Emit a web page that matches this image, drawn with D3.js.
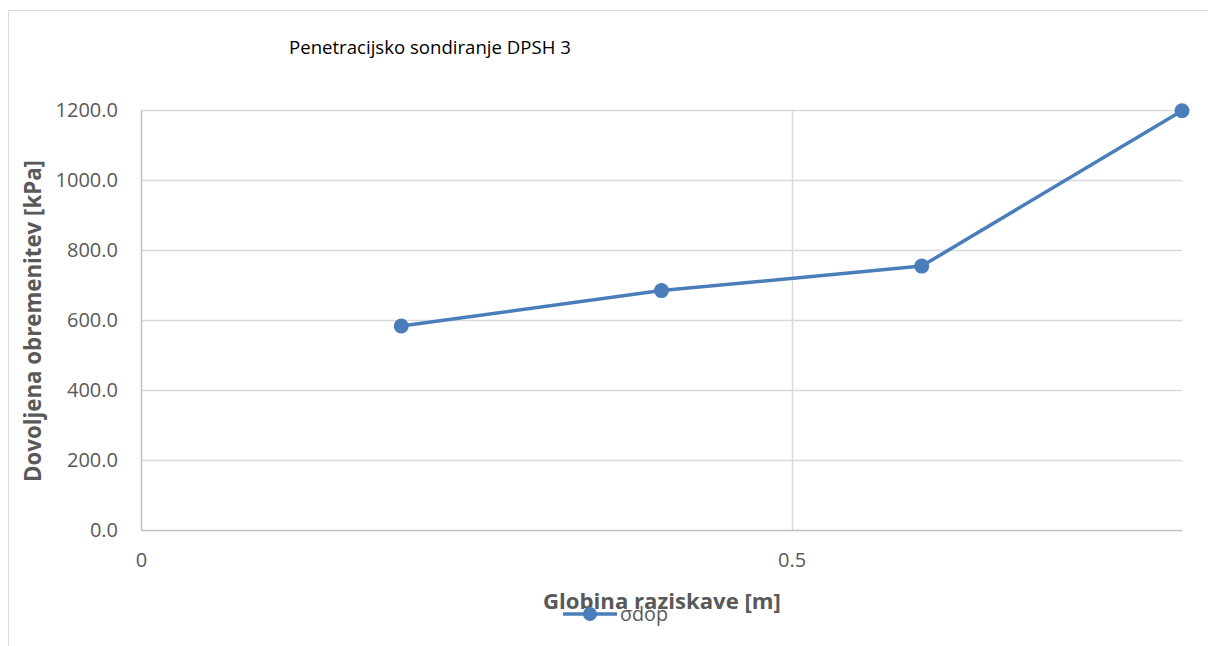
<!DOCTYPE html>
<html>
<head>
<meta charset="utf-8">
<script src="https://cdn.jsdelivr.net/npm/d3@7"></script>
<style>
  html, body { margin: 0; padding: 0; background: #fff; }
  svg { display: block; font-family: "Open Sans", Lato, sans-serif; }
</style>
</head>
<body>
<svg id="chart" width="1208" height="646"></svg>
<script>
// Depth of investigation [m] and allowable load [kPa]
const depths = [0.2, 0.4, 0.6, 0.8];
const loads = [583, 684, 754, 1198];
const yTicks = [0, 200, 400, 600, 800, 1000, 1200];
const xTicks = [0, 0.5];
const seriesName = "σdop";

const svg = d3.select("#chart");
const margin = { left: 141, right: 1182, top: 110, bottom: 530 };
const font = "'Open Sans', Lato, sans-serif";

const x = d3.scaleLinear().domain([0, 0.8]).range([margin.left, margin.right]);
const y = d3.scaleLinear().domain([0, 1200]).range([margin.bottom, margin.top]);

// shrink or grow a text's font size so it spans the given width
function fitWidth(sel, width) {
  const node = sel.node();
  const size = parseFloat(sel.style("font-size"));
  const len = node.getComputedTextLength();
  if (len > 0) sel.style("font-size", (size * width / len).toFixed(2) + "px");
  return sel;
}

// chart frame
svg.append("path")
  .attr("d", "M8.5,646 V10.5 H1208")
  .attr("fill", "none").attr("stroke", "#d9d9d9").attr("stroke-width", 1);

// horizontal gridlines
svg.append("g")
  .selectAll("line").data(yTicks.filter(d => d > 0)).join("line")
  .attr("x1", margin.left).attr("x2", margin.right)
  .attr("y1", d => Math.round(y(d)) + 0.5).attr("y2", d => Math.round(y(d)) + 0.5)
  .attr("stroke", "#d9d9d9").attr("stroke-width", 1.5);

// vertical gridlines
svg.append("g")
  .selectAll("line").data(xTicks.filter(d => d > 0)).join("line")
  .attr("x1", d => Math.round(x(d)) + 0.5).attr("x2", d => Math.round(x(d)) + 0.5)
  .attr("y1", margin.top).attr("y2", margin.bottom)
  .attr("stroke", "#d9d9d9").attr("stroke-width", 1.5);

// axes
const yAxis = d3.axisLeft(y).tickValues(yTicks).tickFormat(d3.format(".1f")).tickSize(0).tickPadding(23);
const gy = svg.append("g").attr("transform", `translate(${margin.left},0)`).call(yAxis);
gy.select(".domain").attr("stroke", "#bfbfbf").attr("stroke-width", 1.5);
gy.selectAll("text").attr("fill", "#595959").style("font-size", "20px")
  .style("font-family", font);

const xAxis = d3.axisBottom(x).tickValues(xTicks).tickFormat(d => d === 0 ? "0" : d3.format(".1f")(d)).tickSize(0).tickPadding(23);
const gx = svg.append("g").attr("transform", `translate(0,${margin.bottom})`).call(xAxis);
gx.select(".domain").attr("stroke", "#bfbfbf").attr("stroke-width", 1.5);
gx.selectAll("text").attr("fill", "#595959").style("font-size", "20px")
  .style("font-family", font);

// data line and markers
const color = "#4a7ebb";
const pts = depths.map((d, i) => [d, loads[i]]);
svg.append("path")
  .datum(pts)
  .attr("fill", "none").attr("stroke", color).attr("stroke-width", 3.5)
  .attr("stroke-linejoin", "round")
  .attr("d", d3.line().x(d => x(d[0])).y(d => y(d[1])));
svg.append("g").selectAll("circle").data(pts).join("circle")
  .attr("cx", d => x(d[0])).attr("cy", d => y(d[1])).attr("r", 7.5)
  .attr("fill", color);

// title
fitWidth(svg.append("text").attr("x", 289).attr("y", 54)
  .attr("fill", "#000").style("font-size", "17px").text("Penetracijsko sondiranje DPSH 3"), 282);

// axis titles
fitWidth(svg.append("text")
  .attr("transform", "translate(41,321) rotate(-90)")
  .attr("text-anchor", "middle").attr("fill", "#595959")
  .style("font-size", "21px").style("font-weight", "bold")
  .text("Dovoljena obremenitev [kPa]"), 322);
fitWidth(svg.append("text")
  .attr("x", 662).attr("y", 609)
  .attr("text-anchor", "middle").attr("fill", "#595959")
  .style("font-size", "21px").style("font-weight", "bold")
  .text("Globina raziskave [m]"), 238);

// legend
const lg = svg.append("g").attr("transform", "translate(0,614)");
lg.append("line").attr("x1", 563).attr("x2", 617).attr("y1", 0).attr("y2", 0)
  .attr("stroke", color).attr("stroke-width", 3.5);
lg.append("circle").attr("cx", 590).attr("cy", 0).attr("r", 7).attr("fill", color);
fitWidth(lg.append("text").attr("x", 620).attr("y", 7).attr("fill", "#595959")
  .style("font-size", "20px").text(seriesName), 48);
</script>
</body>
</html>
